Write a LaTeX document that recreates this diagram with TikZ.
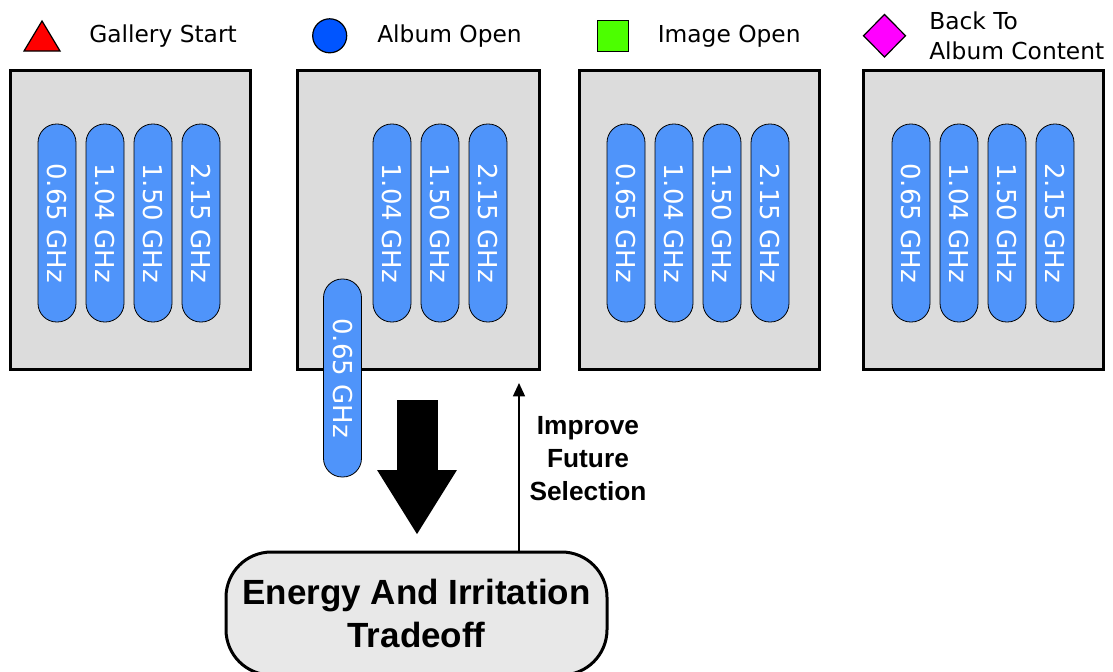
\documentclass[tikz,border=0pt]{standalone}
\usepackage{fontspec}
\setmainfont{DejaVu Sans}
\newfontfamily\arialf{Liberation Sans}
\usetikzlibrary{arrows.meta}
\definecolor{boxgray}{HTML}{DCDCDC}
\definecolor{tradegray}{HTML}{E8E8E8}
\definecolor{pillblue}{HTML}{4F94FA}
\definecolor{legred}{HTML}{FF0000}
\definecolor{legblue}{HTML}{0055FF}
\definecolor{leggreen}{HTML}{4CFF00}
\definecolor{legmag}{HTML}{FF00FF}
\begin{document}
\begin{tikzpicture}[x=0.75pt,y=-0.75pt,
  panel/.style={draw=black,line width=2.25pt,fill=boxgray,minimum width=240*0.75pt,minimum height=299*0.75pt,inner sep=0pt},
  pill/.style={draw=black,line width=0.6pt,fill=pillblue,rounded corners=14pt,minimum width=148.5pt,minimum height=28.5pt,inner sep=0pt,rotate=-90,text=white,font=\fontsize{19.5}{20}\selectfont},
  legtext/.style={anchor=base west,inner sep=0pt,font=\fontsize{17.5}{20}\selectfont},
  boldtext/.style={font=\arialf\bfseries\fontsize{19.7}{24.75}\selectfont,align=center,inner sep=0pt},
  legshape/.style={draw=black,line width=0.9pt}
]
\useasboundingbox (0,0) rectangle (1113,671);
\clip (0,0) rectangle (1113,671);

% legend
\draw[legshape,fill=legred] (42,21) -- (60,51) -- (24,51) -- cycle;
\node[legtext] (lg1) at (89,42.3) {Gallery Start};
\node[legshape,fill=legblue,circle,minimum size=34*0.75pt,inner sep=0pt] (lc) at (329.7,35.8) {};
\node[legtext] (lg2) at (377,42.3) {Album Open};
\node[legshape,fill=leggreen,minimum size=31*0.75pt,inner sep=0pt] (ls) at (613,36) {};
\node[legtext] (lg3) at (657.5,42.3) {Image Open};
\draw[legshape,fill=legmag] (884.5,14.5) -- (905.5,35.7) -- (884.5,57) -- (863.5,35.7) -- cycle;
\node[legtext] (lg4a) at (929,29.5) {Back To};
\node[legtext] (lg4b) at (929,59) {Album Content};

% panels
\node[panel] (p1) at (130,219.5) {};
\node[panel,minimum width=242*0.75pt] (p2) at (418,219.5) {};
\node[panel] (p3) at (699,219.5) {};
\node[panel] (p4) at (983,219.5) {};

% pills panel 1
\node[pill] (a1) at (57,223) {0.65 GHz};
\node[pill] (a2) at (105,223) {1.04 GHz};
\node[pill] (a3) at (153,223) {1.50 GHz};
\node[pill] (a4) at (201,223) {2.15 GHz};
% panel 2
\node[pill] (b2) at (392,223) {1.04 GHz};
\node[pill] (b3) at (440,223) {1.50 GHz};
\node[pill] (b4) at (488,223) {2.15 GHz};
\node[pill] (b1) at (342.5,378) {0.65 GHz};
% panel 3
\node[pill] (c1) at (626,223) {0.65 GHz};
\node[pill] (c2) at (674,223) {1.04 GHz};
\node[pill] (c3) at (722,223) {1.50 GHz};
\node[pill] (c4) at (770,223) {2.15 GHz};
% panel 4
\node[pill] (d1) at (911,223) {0.65 GHz};
\node[pill] (d2) at (959,223) {1.04 GHz};
\node[pill] (d3) at (1007,223) {1.50 GHz};
\node[pill] (d4) at (1055,223) {2.15 GHz};

% tradeoff box
\node[draw=black,line width=2.25pt,fill=tradegray,rounded corners=34pt,minimum width=381*0.75pt,minimum height=123*0.75pt,inner sep=0pt,align=center,font=\arialf\bfseries\fontsize{26.25}{32.25}\selectfont] (trade) at (416.5,613.5) {Energy And Irritation\\Tradeoff};

% big arrow
\coordinate (bigs) at (417,400);
\coordinate (bige) at (417,535);
\draw[line width=30.75pt,-{Triangle[width=56.25pt,length=48.75pt]}] (bigs) -- (bige);

% feedback arrow
\coordinate (fbtop) at (519,383);
\draw[line width=1.1pt,-{Triangle[width=9pt,length=10pt]}] (trade.north -| fbtop) -- (fbtop);
\node[boldtext] (improve) at (588,459) {Improve\\Future\\Selection};
\end{tikzpicture}
\end{document}
